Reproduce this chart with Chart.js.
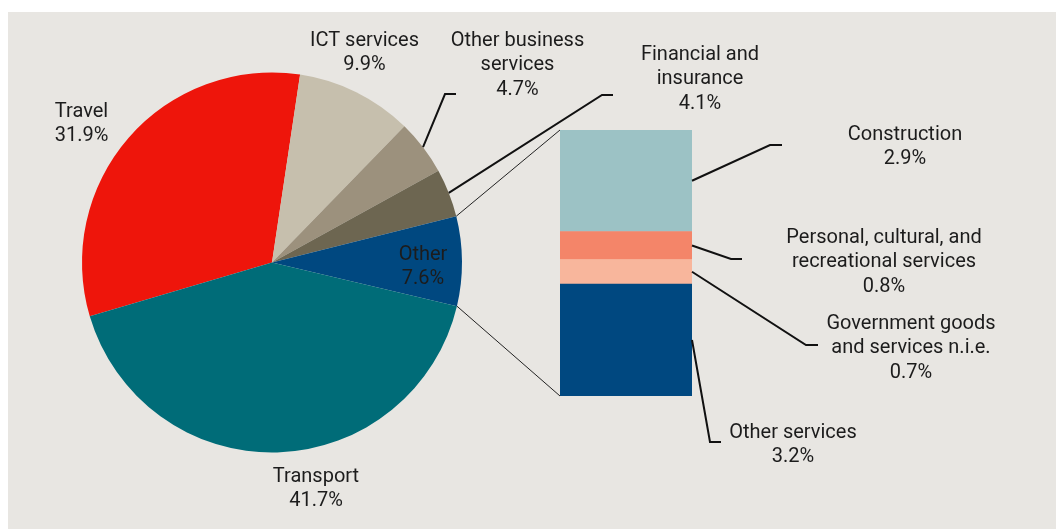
<!DOCTYPE html>
<html>
<head>
<meta charset="utf-8">
<script src="https://cdn.jsdelivr.net/npm/chart.js@4.4.1/dist/chart.umd.min.js"></script>
<style>
  body { margin: 0; background: #fff; width: 1056px; height: 529px; overflow: hidden; position: relative; }
  #bg { position: absolute; left: 8px; top: 12px; width: 1048px; height: 517px; background: #e8e6e2; }
  canvas { position: absolute; left: 0; top: 0; }
</style>
</head>
<body>
<div id="bg"></div>
<canvas id="pie" width="1056" height="529"></canvas>
<canvas id="bar" width="1056" height="529"></canvas>
<script>
// pie: services exports by type (%)
const pieLabels = ['Travel', 'ICT services', 'Other business services', 'Financial and insurance', 'Other', 'Transport'];
const pieLines = [['Travel'], ['ICT services'], ['Other business', 'services'], ['Financial and', 'insurance'], ['Other'], ['Transport']];
const pieValues = [31.9, 9.9, 4.7, 4.1, 7.6, 41.7];
const pieColors = ['#ee150b', '#c6bfad', '#9c917d', '#6d6651', '#004880', '#006c78'];

// bar: breakdown of "Other" (bottom to top)
const barLabels = ['Other services', 'Government goods and services n.i.e.', 'Personal, cultural, and recreational services', 'Construction'];
const barLines = [['Other services'], ['Government goods', 'and services n.i.e.'], ['Personal, cultural, and', 'recreational services'], ['Construction']];
const barValues = [3.2, 0.7, 0.8, 2.9];
const barColors = ['#004880', '#f8b69c', '#f48569', '#9cc2c5'];

const FONT = '20px Roboto';
const TEXT = '#1c1c1c';
const LH = 24.3;

// label placement (centre x, first baseline) and leader elbows
const pieSpots = [
  {x: 81.5, y: 117},
  {x: 364.5, y: 46},
  {x: 517.5, y: 46, elbow: [445, 94], end: [456, 94]},
  {x: 700, y: 60, elbow: [602, 95], end: [613, 95]},
  {x: 423, y: 260},
  {x: 316, y: 482}
];
const barSpots = [
  {x: 793, y: 438, elbow: [710, 442], end: [721, 442]},
  {x: 911, y: 329, elbow: [806, 345], end: [818, 345]},
  {x: 884, y: 243, elbow: [731, 259], end: [742, 259]},
  {x: 905, y: 140, elbow: [770, 145], end: [782, 145]}
];

const pieChart = new Chart(document.getElementById('pie').getContext('2d'), {
  type: 'pie',
  data: {
    labels: pieLabels,
    datasets: [{
      data: pieValues,
      backgroundColor: pieColors,
      borderWidth: 0,
      hoverBorderWidth: 0,
      hoverOffset: 0
    }]
  },
  options: {
    responsive: false,
    animation: false,
    events: [],
    rotation: -106.45,
    layout: { padding: { left: 82, top: 72, right: 594, bottom: 76 } },
    plugins: { legend: { display: false }, tooltip: { enabled: false } }
  }
});

function drawLabel(ctx, lines, value, spot) {
  ctx.font = FONT;
  ctx.fillStyle = TEXT;
  ctx.textAlign = 'center';
  ctx.textBaseline = 'alphabetic';
  const all = lines.concat([value.toFixed(1) + '%']);
  all.forEach((t, i) => ctx.fillText(t, spot.x, spot.y + i * LH));
}

function leader(ctx, from, spot) {
  ctx.beginPath();
  ctx.moveTo(from[0], from[1]);
  ctx.lineTo(spot.elbow[0], spot.elbow[1]);
  ctx.lineTo(spot.end[0], spot.end[1]);
  ctx.stroke();
}

const annotations = {
  id: 'annotations',
  afterDraw(chart) {
    const ctx = chart.ctx;
    const arcs = pieChart.getDatasetMeta(0).data;
    const bars = barValues.map((v, i) => chart.getDatasetMeta(i).data[0]);
    ctx.save();

    // connectors from the "Other" slice to the bar
    const other = arcs[4];
    const top = bars[bars.length - 1];
    const bottom = bars[0];
    ctx.strokeStyle = '#222';
    ctx.lineWidth = 1;
    ctx.beginPath();
    ctx.moveTo(other.x + Math.cos(other.startAngle) * other.outerRadius, other.y + Math.sin(other.startAngle) * other.outerRadius);
    ctx.lineTo(top.x - top.width / 2, top.y);
    ctx.moveTo(other.x + Math.cos(other.endAngle) * other.outerRadius, other.y + Math.sin(other.endAngle) * other.outerRadius);
    ctx.lineTo(bottom.x - bottom.width / 2, bottom.base);
    ctx.stroke();

    // leaders
    ctx.strokeStyle = '#111';
    ctx.lineWidth = 2;
    arcs.forEach((a, i) => {
      if (!pieSpots[i].elbow) return;
      const mid = (a.startAngle + a.endAngle) / 2;
      leader(ctx, [a.x + Math.cos(mid) * a.outerRadius, a.y + Math.sin(mid) * a.outerRadius], pieSpots[i]);
    });
    bars.forEach((b, i) => {
      leader(ctx, [b.x + b.width / 2, (b.y + b.base) / 2], barSpots[i]);
    });

    // texts
    pieLines.forEach((l, i) => drawLabel(ctx, l, pieValues[i], pieSpots[i]));
    barLines.forEach((l, i) => drawLabel(ctx, l, barValues[i], barSpots[i]));
    ctx.restore();
  }
};

const barChart = new Chart(document.getElementById('bar').getContext('2d'), {
  type: 'bar',
  data: {
    labels: [pieLabels[4]],
    datasets: barLabels.map((l, i) => ({
      label: l,
      data: [barValues[i]],
      backgroundColor: barColors[i],
      borderWidth: 0,
      barPercentage: 1,
      categoryPercentage: 1
    }))
  },
  options: {
    responsive: false,
    animation: false,
    events: [],
    layout: { padding: { left: 560, top: 130, right: 364, bottom: 133 } },
    scales: {
      x: { display: false, stacked: true },
      y: { display: false, stacked: true, min: 0, max: pieValues[4] }
    },
    plugins: { legend: { display: false }, tooltip: { enabled: false } }
  },
  plugins: [annotations]
});
</script>
</body>
</html>
